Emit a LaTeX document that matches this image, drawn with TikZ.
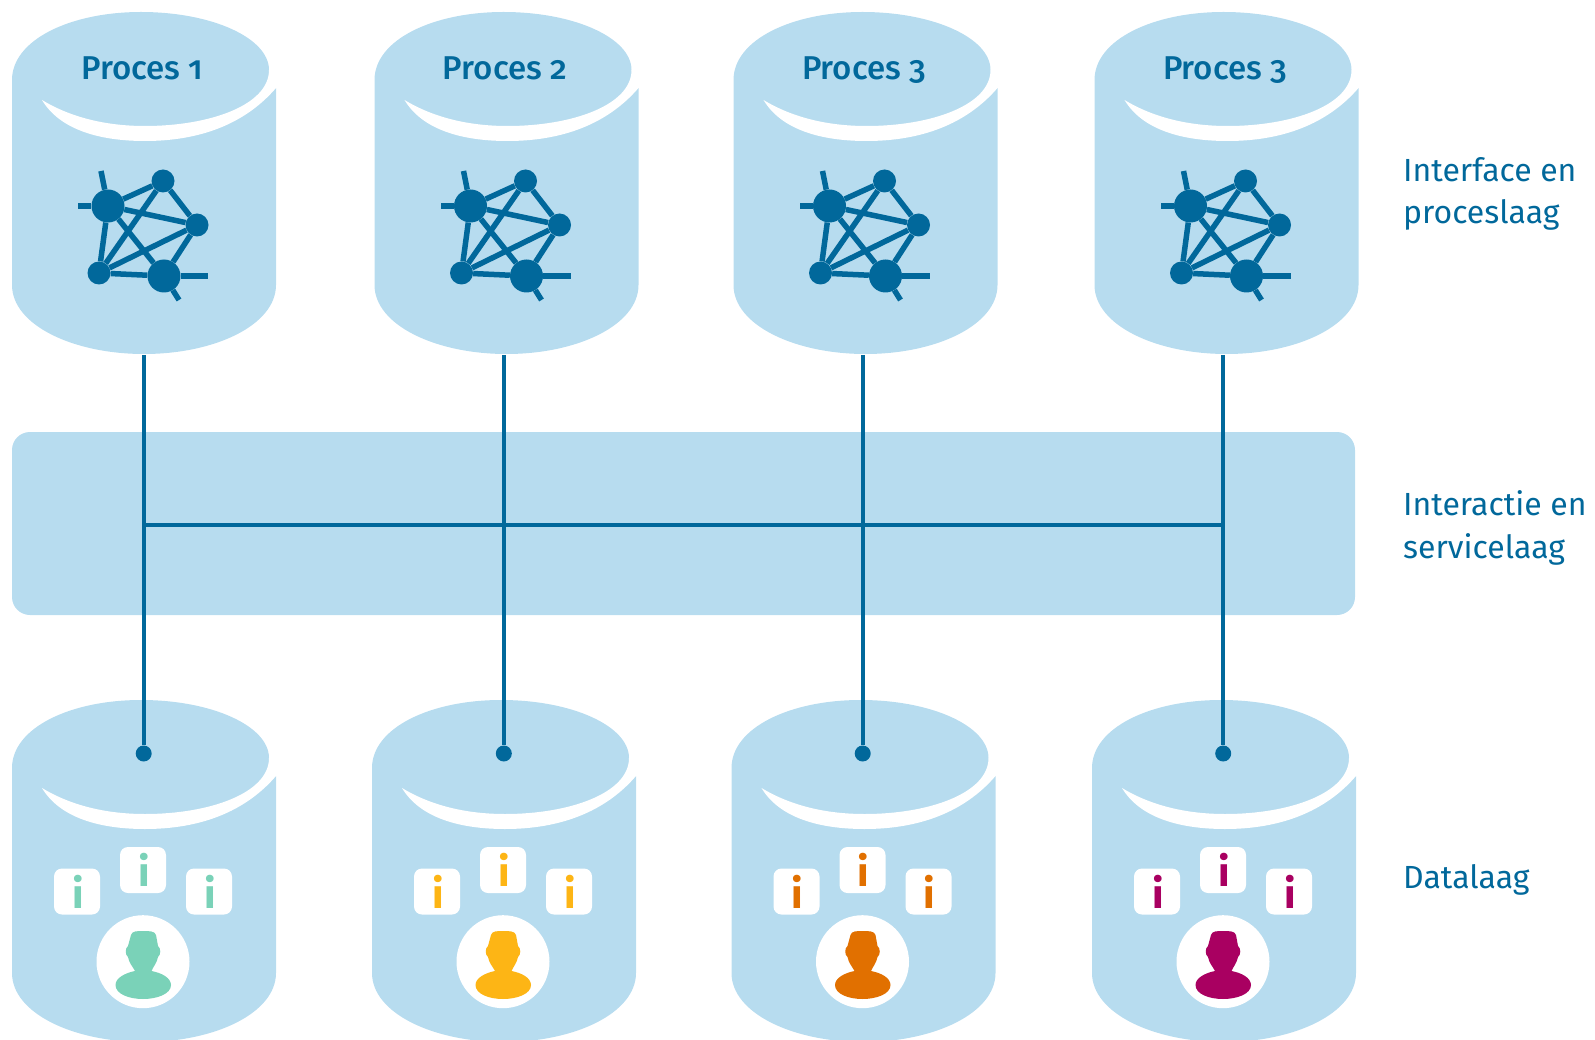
\documentclass[tikz,border=0pt]{standalone}
\usepackage{fontspec}
\setmainfont{Fira Sans}
\newfontfamily\procfont[Numbers=OldStyle]{Fira Sans Medium}
\newfontfamily\laagfont{Fira Sans}
\usetikzlibrary{positioning,calc}
\definecolor{vatblue}{HTML}{B7DCEF}
\definecolor{linkblue}{HTML}{01689B}
\definecolor{mint}{HTML}{7AD2B8}
\definecolor{amber}{HTML}{FDB515}
\definecolor{rust}{HTML}{E17000}
\definecolor{berry}{HTML}{A90061}
\newcommand{\vatshape}{%
  \fill[vatblue] (12,80) .. controls (12,40) and (70,12) .. (141,12)
    .. controls (212,12) and (269,38) .. (269,70) -- (276,88) -- (276,285)
    .. controls (276,325) and (215,354) .. (144,354)
    .. controls (73,354) and (12,325) .. (12,285) -- cycle;
  \fill[white] (42,100) .. controls (70,117) and (105,126) .. (145,126)
    .. controls (210,126) and (269,105) .. (269,70) -- (278,70) -- (278,88) -- (276,88)
    .. controls (245,124) and (200,141) .. (145,141)
    .. controls (100,141) and (60,130) .. (42,100) -- cycle;}
\tikzset{
  hub/.style={circle,fill=linkblue,inner sep=0pt,minimum size=#1},
  web/.style={linkblue,line width=5.5pt},
  link/.style={linkblue,line width=4pt},
  tile/.style={fill=white,rounded corners=8pt,inner sep=0pt,minimum size=46pt,
    font=\fontsize{41}{41}\selectfont\bfseries},
  laag/.style={linkblue,anchor=west,align=left,inner sep=0pt,
    font=\laagfont\fontsize{32}{42.5}\selectfont},
  pics/procvat/.style={code={
    \vatshape
    \node[linkblue,anchor=base,inner sep=0pt,font=\procfont\fontsize{33}{33}\selectfont] (-title) at (142.5,80) {Proces #1};
    % Network
    \node[hub=33pt] (-a) at (108,206) {};
    \node[hub=23pt] (-b) at (163,181) {};
    \node[hub=23pt] (-c) at (197,225) {};
    \node[hub=23pt] (-d) at (99,273) {};
    \node[hub=33pt] (-e) at (164,276) {};
    \coordinate (-s1) at (101,171);
    \coordinate (-s2) at (78,206);
    \coordinate (-s3) at (208,276);
    \coordinate (-s4) at (179,300);
    \foreach \u/\v in {a/b,a/c,a/d,a/e,b/c,b/d,c/d,c/e,d/e,a/s1,a/s2,e/s3,e/s4}
      \draw[web] (-\u) -- (-\v);
  }},
  pics/datavat/.style={code={
    \vatshape
    % Info tiles
    \node[tile,text=#1] (-i1) at (77,203.5) {\kern2pt i};
    \node[tile,text=#1] (-i2) at (143,182) {\kern2pt i};
    \node[tile,text=#1] (-i3) at (209,203.5) {\kern2pt i};
    % User
    \node[circle,fill=white,inner sep=0pt,minimum size=93pt] (-user) at (143,273.7) {};
    \fill[#1] (131,247) .. controls (132,243) and (137,243) .. (143,243)
      .. controls (149,243) and (155,243) .. (156,247) -- (158,258)
      .. controls (161,260) and (161,267) .. (158,269)
      .. controls (157,275) and (153,279) .. (151.5,283)
      .. controls (162,285) and (171,290) .. (171,297)
      .. controls (171,306) and (157,311) .. (143,311)
      .. controls (129,311) and (115.5,306) .. (115.5,297)
      .. controls (115.5,290) and (125,285) .. (135,283)
      .. controls (133,279) and (129,275) .. (128,269)
      .. controls (125,267) and (125,260) .. (128,258) -- cycle;
  }}
}
\begin{document}
\begin{tikzpicture}[x=1pt,y=-1pt]
  \useasboundingbox (0,0) rectangle (1595,1040);

  % Service layer
  \node[fill=vatblue,rounded corners=18pt,inner sep=0pt,minimum width=1343pt,minimum height=183pt] (bus) at (683.5,523.5) {};

  % Process layer
  \foreach \i/\n/\dx in {1/1/0,2/2/362.5,3/3/721.5,4/3/1082.5}
    \pic (proc\i) at (\dx,0) {procvat={\n}};

  % Data layer
  \foreach \i/\dx/\col in {1/0/mint,2/360/amber,3/719.5/rust,4/1080/berry}
    \pic (data\i) at (\dx,688) {datavat={\col}};

  % Links
  \foreach \i/\x in {1/143.7,2/503.8,3/862.7,4/1223.2} {
    \coordinate (top\i) at (\x,355);
    \coordinate (mid\i) at (\x,524.5);
    \node[hub=16pt] (dot\i) at (\x,753.5) {};
    \draw[link] (top\i) -- (dot\i);
  }
  \draw[link] (mid1) -- (mid4);

  % Layer names
  \node[laag] (lproc) at (1403,194) {Interface en\\proceslaag};
  \node[laag] (lserv) at (1403,528) {Interactie en\\servicelaag};
  \node[laag] (ldata) at (1403,880) {Datalaag};
\end{tikzpicture}
\end{document}
